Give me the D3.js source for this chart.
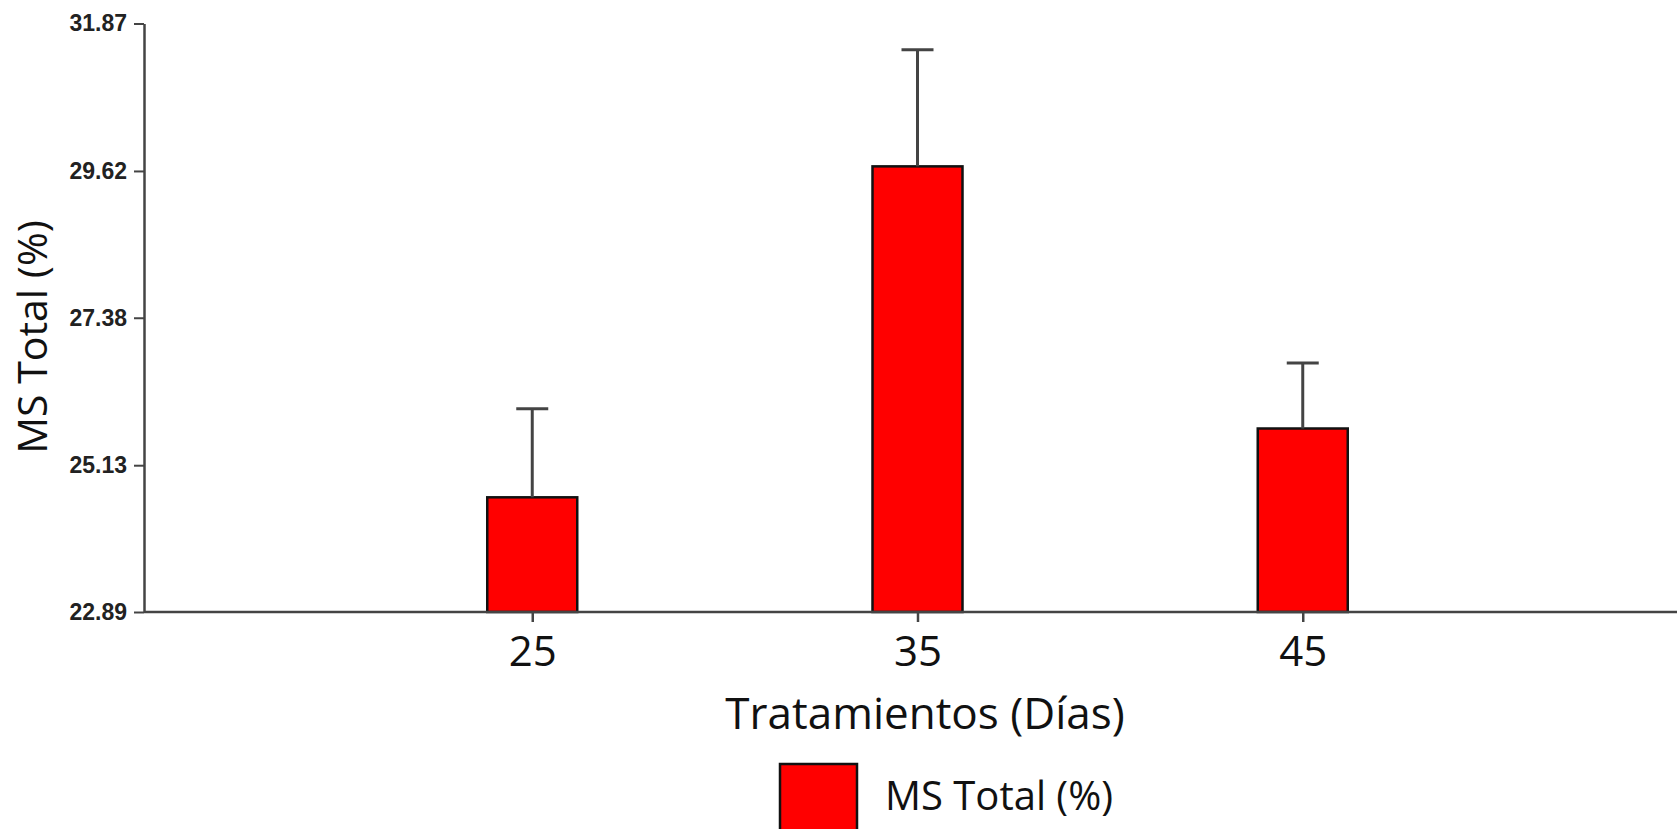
<!DOCTYPE html>
<html>
<head>
<meta charset="utf-8">
<script src="https://cdn.jsdelivr.net/npm/d3@7"></script>
<style>
  html, body { margin: 0; padding: 0; background: #ffffff; }
  svg { display: block; }
</style>
</head>
<body>
<svg id="chart" width="1677" height="829"></svg>
<script>
// Días de tratamiento y materia seca total (%) con su desviación
const categories = ["25", "35", "45"];
const values = [24.64, 29.69, 25.69];
const errors = [1.35, 1.78, 1.00];
const yTicks = [22.89, 25.13, 27.38, 29.62, 31.87];
const yDomain = [22.89, 31.87];
const seriesName = "MS Total (%)";
const xTitle = "Tratamientos (Días)";
const yTitle = "MS Total (%)";

const svg = d3.select("#chart");
const W = 1677, H = 829;
const plotLeft = 144, plotBottom = 612, plotTop = 23.5;
const labelFont = "'Open Sans', 'Noto Sans', sans-serif";

const x = d3.scalePoint().domain(categories).range([147, 1688]).padding(1);
const y = d3.scaleLinear().domain(yDomain).range([plotBottom, plotTop]);
const barW = 90, capW = 32;

// bars
svg.append("g").selectAll("rect")
  .data(categories)
  .join("rect")
  .attr("x", (d) => x(d) - barW / 2)
  .attr("y", (d, i) => y(values[i]))
  .attr("width", barW)
  .attr("height", (d, i) => y(yDomain[0]) - y(values[i]))
  .attr("fill", "#ff0000")
  .attr("stroke", "#111")
  .attr("stroke-width", 2.5);

// error bars (upper whisker only)
const eb = svg.append("g").attr("stroke", "#444").attr("stroke-width", 3);
categories.forEach((c, i) => {
  const cx = x(c);
  eb.append("line")
    .attr("x1", cx).attr("x2", cx)
    .attr("y1", y(values[i])).attr("y2", y(values[i] + errors[i]));
  eb.append("line")
    .attr("x1", cx - capW / 2).attr("x2", cx + capW / 2)
    .attr("y1", y(values[i] + errors[i])).attr("y2", y(values[i] + errors[i]));
});

// y axis
const yAxis = svg.append("g")
  .attr("transform", `translate(${plotLeft},0)`)
  .call(d3.axisLeft(y).tickValues(yTicks).tickFormat(d3.format(".2f")).tickSize(10).tickSizeOuter(0));
yAxis.select(".domain").attr("stroke", "#444").attr("stroke-width", 2.5);
yAxis.selectAll(".tick line").attr("stroke", "#444").attr("stroke-width", 2);
yAxis.selectAll(".tick text")
  .attr("x", -17)
  .attr("fill", "#222")
  .style("font-family", "'Liberation Sans', Arial, sans-serif")
  .style("font-weight", "bold")
  .style("font-size", "23px");

// x axis
const xAxis = svg.append("g")
  .attr("transform", `translate(0,${plotBottom})`)
  .call(d3.axisBottom(x).tickSize(10).tickSizeOuter(0));
xAxis.select(".domain").attr("d", `M${plotLeft},0H${W}`).attr("stroke", "#444").attr("stroke-width", 2.5);
xAxis.selectAll(".tick line").attr("stroke", "#444").attr("stroke-width", 2.5);
xAxis.selectAll(".tick text")
  .attr("y", 24)
  .attr("fill", "#111")
  .style("font-family", labelFont)
  .style("font-size", "42px");

// axis titles
svg.append("text")
  .attr("x", 925).attr("y", 729)
  .attr("text-anchor", "middle")
  .attr("fill", "#111")
  .style("font-family", labelFont)
  .style("font-size", "44px")
  .text(xTitle);

svg.append("text")
  .attr("transform", `translate(47,337) rotate(-90)`)
  .attr("text-anchor", "middle")
  .attr("fill", "#111")
  .style("font-family", labelFont)
  .style("font-size", "41px")
  .text(yTitle);

// legend
const lg = svg.append("g");
lg.append("rect")
  .attr("x", 780).attr("y", 764)
  .attr("width", 77).attr("height", 77)
  .attr("fill", "#ff0000").attr("stroke", "#111").attr("stroke-width", 2.5);
lg.append("text")
  .attr("x", 885).attr("y", 810)
  .attr("fill", "#111")
  .style("font-family", labelFont)
  .style("font-size", "40px")
  .text(seriesName);
</script>
</body>
</html>
